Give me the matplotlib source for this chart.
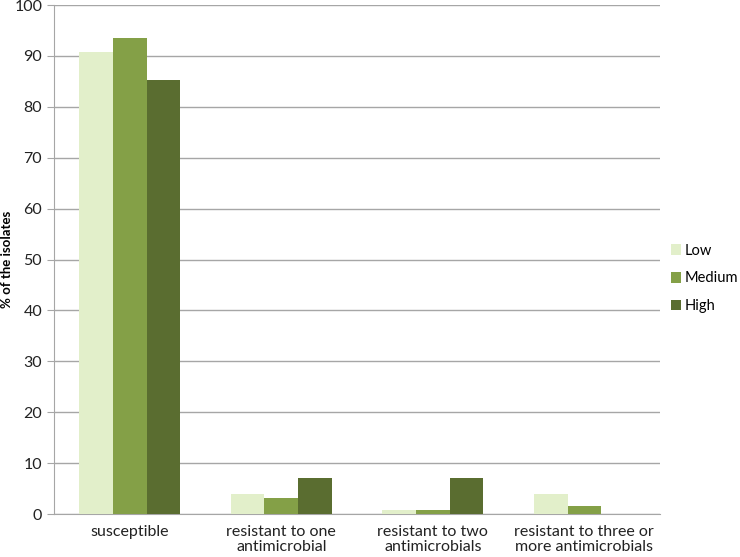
import numpy as np
import matplotlib.pyplot as plt

# ===== Data ===================================================================

categories = ["susceptible", "resistant to one\nantimicrobial",
              "resistant to two\nantimicrobials",
              "resistant to three or\nmore antimicrobials"]
low = [90.7, 3.9, 0.8, 3.9]
medium = [93.5, 3.1, 0.9, 1.6]
high = [85.2, 7.1, 7.1, 0.0]

series = [("Low", low, "#e2efca"), ("Medium", medium, "#84a047"),
          ("High", high, "#5a6d30")]

# ===== Plot ===================================================================

plt.rcParams['font.family'] = ['Lato', 'DejaVu Sans']

fig = plt.figure(figsize=(7.4, 5.57), dpi=100)
ax = fig.add_axes([0.073, 0.077, 0.819, 0.914])

x = np.arange(len(categories))
width = 0.222
for i, (name, vals, color) in enumerate(series):
    ax.bar(x + (i - 1) * width, vals, width, color=color, label=name,
           zorder=3)

ax.set_xlim(-0.5, len(categories) - 0.5)
ax.set_ylim(0, 100)
ax.set_yticks(range(0, 101, 10))
ax.yaxis.grid(True, color="#a6a6a6", linewidth=1, zorder=0)
ax.set_xticks(x)
ax.set_xticklabels(categories, fontsize=11.5, color="#222222",
                   linespacing=1.1)
ax.tick_params(axis="x", length=0, pad=8)
ax.tick_params(axis="y", labelsize=11.5, colors="#222222", length=5,
               color="#a6a6a6")

for side in ["top", "right"]:
    ax.spines[side].set_visible(False)
ax.spines["left"].set_color("#a6a6a6")
ax.spines["bottom"].set_color("#a6a6a6")

ax.set_ylabel("% of the isolates", fontsize=9.5, fontweight="bold")
ax.yaxis.set_label_coords(-0.068, 0.5)

handles, labels = ax.get_legend_handles_labels()
fig.legend(handles, labels, loc="center left", bbox_to_anchor=(0.907, 0.5),
           frameon=False, fontsize=10.5, handlelength=0.7, handleheight=0.7,
           handletextpad=0.25, labelspacing=0.95, borderaxespad=0,
           borderpad=0)

fig.savefig("out.png", dpi=100)
